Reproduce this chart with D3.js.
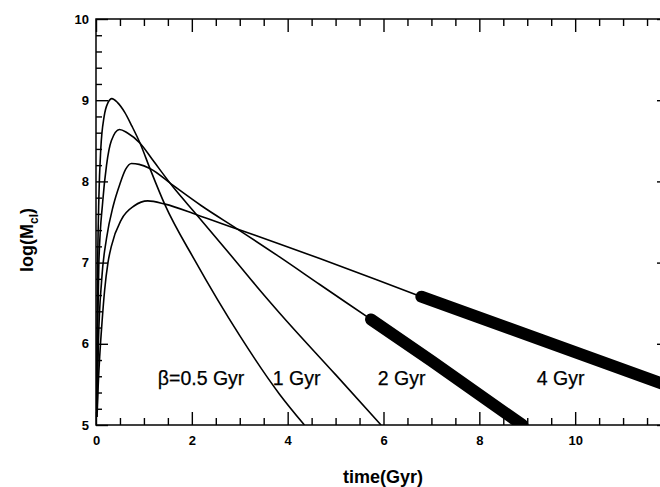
<!DOCTYPE html>
<html>
<head>
<meta charset="utf-8">
<script src="https://cdn.jsdelivr.net/npm/d3@7"></script>
<style>
  body { margin: 0; background: #fff; }
  svg { display: block; }
  .axis text { font-family: "Liberation Sans", Arial, sans-serif; font-weight: bold; font-size: 13px; fill: #000; }
  .axis line, .axis path { stroke: #000; stroke-width: 1.4; }
  .lbl { font-family: "Liberation Sans", Arial, sans-serif; font-size: 19.5px; fill: #000; stroke: #000; stroke-width: 0.25; }
  .ttl { font-family: "Liberation Sans", Arial, sans-serif; font-size: 18px; font-weight: bold; fill: #000; }
</style>
</head>
<body>
<svg id="chart" width="660" height="487"></svg>
<script>
// --- values: [time (Gyr), log(M_cl)]
const beta05 = [[0.012,5.1],[0.02,6.0],[0.035,7.0],[0.06,7.8],[0.1,8.4],[0.17,8.8],[0.25,8.97],[0.33,9.02],
  [0.45,8.97],[0.6,8.85],[0.75,8.68],[0.92,8.47],[1.125,8.16],[1.44,7.71],[2.06,7.03],[3.0,6.1],[3.83,5.38],[4.35,5.0]];
const beta1 = [[0.015,5.1],[0.03,6.0],[0.06,7.0],[0.14,7.75],[0.22,8.2],[0.32,8.5],[0.49,8.64],[0.65,8.6],
  [0.92,8.47],[1.2,8.25],[1.61,7.93],[2.1,7.59],[2.9,7.03],[3.42,6.66],[3.83,6.38],[5.0,5.62],[5.95,5.0]];
const beta2 = [[0.02,5.1],[0.05,6.0],[0.12,6.8],[0.22,7.3],[0.36,7.7],[0.5,7.97],[0.62,8.15],[0.74,8.22],
  [0.9,8.21],[1.125,8.16],[1.61,7.95],[2.2,7.7],[2.96,7.41],[3.83,7.07],[4.67,6.73],[5.74,6.30],[7.0,5.79],[8.9,5.0]];
const beta4 = [[0.025,5.15],[0.042,5.43],[0.077,5.84],[0.125,6.26],[0.18,6.66],[0.25,7.0],[0.32,7.2],[0.53,7.53],
  [0.8,7.7],[1.08,7.76],[1.44,7.72],[2.1,7.59],[2.96,7.41],[3.83,7.23],[4.67,7.05],[6.79,6.58],[12.0,5.47]];

const series = [beta05, beta1, beta2, beta4];
const thickFrom = [null, null, 5.74, 6.79];          // where the heavy part of a curve begins
const betaLabels = ['β=0.5 Gyr', '1 Gyr', '2 Gyr', '4 Gyr'];
const labelAt = [[1.29,5.49],[3.69,5.49],[5.88,5.49],[9.2,5.49]];

const xMajor = [0, 2, 4, 6, 8, 10, 12];
const yMajor = [5, 6, 7, 8, 9, 10];
const xMinor = d3.range(0, 12.01, 0.5).filter(v => v % 2 !== 0);
const yMinor = d3.range(5, 10.01, 0.2).filter(v => Math.abs(v - Math.round(v)) > 0.01);

// --- scales
const svg = d3.select('#chart');
const x = d3.scaleLinear().domain([0, 12]).range([96, 671]);
const y = d3.scaleLinear().domain([5, 10]).range([425, 19]);

// --- frame ticks (all pointing inward)
function axisGroup(gen, tx, ty) {
  const g = svg.append('g').attr('class', 'axis').attr('transform', `translate(${tx},${ty})`).call(gen);
  g.select('.domain').remove();
  return g;
}
const noLbl = () => '';
axisGroup(d3.axisBottom(x).tickValues(xMajor.filter(v => v < 12)).tickSize(-13).tickPadding(11).tickFormat(d3.format('d')), 0, 425);
axisGroup(d3.axisBottom(x).tickValues(xMinor).tickSize(-7).tickFormat(noLbl), 0, 425);
axisGroup(d3.axisTop(x).tickValues(xMajor).tickSize(-13).tickFormat(noLbl), 0, 19);
axisGroup(d3.axisTop(x).tickValues(xMinor).tickSize(-7).tickFormat(noLbl), 0, 19);
axisGroup(d3.axisLeft(y).tickValues(yMajor).tickSize(-12).tickPadding(7).tickFormat(d3.format('d')), 96, 0);
axisGroup(d3.axisLeft(y).tickValues(yMinor).tickSize(-6).tickFormat(noLbl), 96, 0);
axisGroup(d3.axisRight(y).tickValues(yMajor).tickSize(-14).tickFormat(noLbl), 671, 0);
axisGroup(d3.axisRight(y).tickValues(yMinor).tickSize(-7).tickFormat(noLbl), 671, 0);

svg.append('rect')
  .attr('x', x(0)).attr('y', y(10))
  .attr('width', x(12) - x(0)).attr('height', y(5) - y(10))
  .attr('fill', 'none').attr('stroke', '#000').attr('stroke-width', 1.5);

// --- curves
svg.append('clipPath').attr('id', 'plot')
  .append('rect').attr('x', x(0)).attr('y', y(10))
  .attr('width', x(12) - x(0)).attr('height', y(5) - y(10));

const line = d3.line().x(d => x(d[0])).y(d => y(d[1])).curve(d3.curveMonotoneX);
const curves = svg.append('g').attr('clip-path', 'url(#plot)');

curves.selectAll('path.thin')
  .data(series)
  .join('path')
  .attr('class', 'thin')
  .attr('d', line)
  .attr('fill', 'none').attr('stroke', '#000').attr('stroke-width', 1.6);

curves.selectAll('path.thick')
  .data(series.map((s, i) => thickFrom[i] == null ? [] : s.filter(d => d[0] >= thickFrom[i])))
  .join('path')
  .attr('class', 'thick')
  .attr('d', d => d.length ? line(d) : null)
  .attr('fill', 'none').attr('stroke', '#000').attr('stroke-width', 12)
  .attr('stroke-linecap', 'round');

// --- curve labels
svg.selectAll('text.lbl')
  .data(betaLabels)
  .join('text')
  .attr('class', 'lbl')
  .attr('x', (d, i) => x(labelAt[i][0]))
  .attr('y', (d, i) => y(labelAt[i][1]))
  .text(d => d);

// --- axis titles
svg.append('text').attr('class', 'ttl')
  .attr('x', 383).attr('y', 483).attr('text-anchor', 'middle')
  .text('time(Gyr)');

const yt = svg.append('text').attr('class', 'ttl')
  .attr('transform', 'translate(33,240) rotate(-90)')
  .attr('text-anchor', 'middle');
yt.append('tspan').text('log(M');
yt.append('tspan').attr('font-size', '12px').attr('dy', 5).text('cl');
yt.append('tspan').attr('dy', -5).text(')');
</script>
</body>
</html>
